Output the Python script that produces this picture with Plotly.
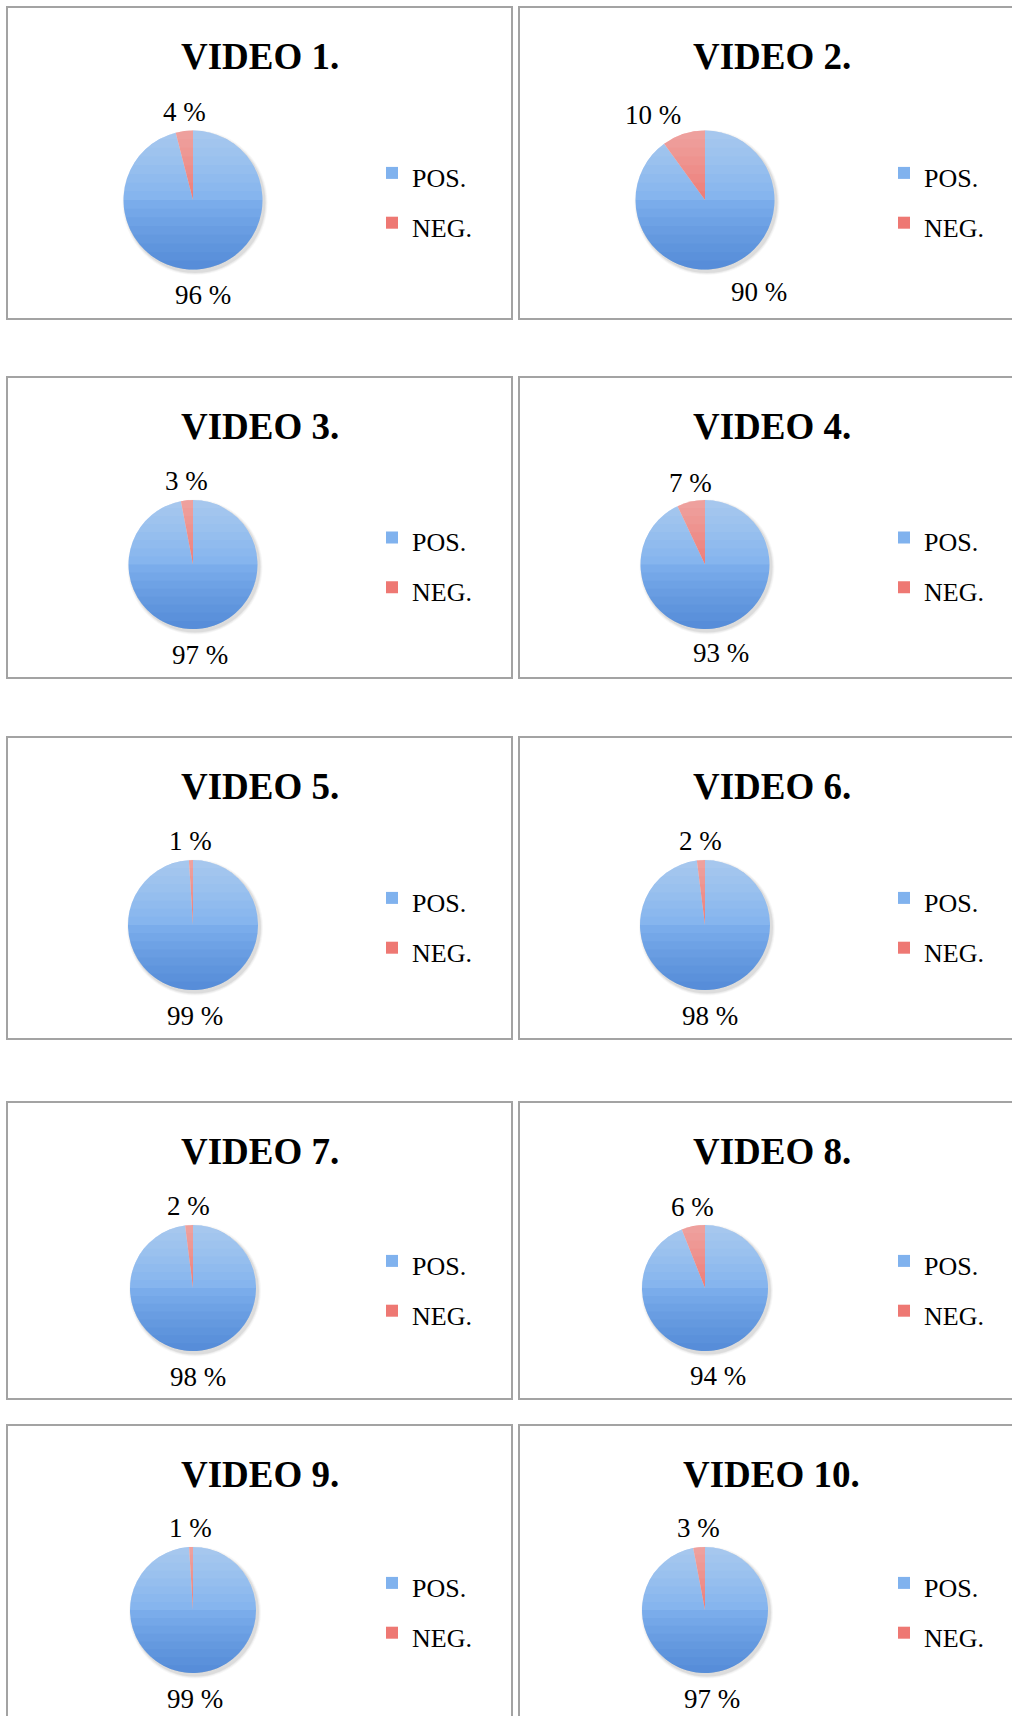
import math
import plotly.graph_objects as go

# ---------------- data ----------------
titles = ["VIDEO 1.", "VIDEO 2.", "VIDEO 3.", "VIDEO 4.", "VIDEO 5.",
          "VIDEO 6.", "VIDEO 7.", "VIDEO 8.", "VIDEO 9.", "VIDEO 10."]
categories = ["POS.", "NEG."]
pos_values = [96, 90, 97, 93, 99, 98, 98, 94, 99, 97]
neg_values = [4, 10, 3, 7, 1, 2, 2, 6, 1, 3]

# ---------------- layout constants (pixels) ----------------
W, H = 1012, 1716
COL_LEFT = [7, 519]
COL_RIGHT = [512, 1024]
ROW_TOP = [7, 377, 737, 1102, 1425]
ROW_BOTTOM = [319, 678, 1039, 1399, 1740]
PIE_CX = [193, 705]
PIE_CY = [200, 564.5, 925, 1288, 1610]
PIE_R = [69.5, 64.5, 65, 63, 63]
TITLE_CX = [259.5, 771.5]
TITLE_BASE = [70, 440, 800, 1165, 1488]
LEGEND_X = [372, 884]

COLORS = ["#80b2ee", "#ee7873"]
SERIF = "Liberation Serif, Times New Roman, serif"


def px(x):
    return x / W


def py(y):
    return 1 - y / H


def segment_path(cx, cy, r, yl, above, n=48):
    """Circular segment of the pie disc above/below the screen line y = yl."""
    c = max(-1.0, min(1.0, (cy - yl) / r))
    phi0 = math.acos(c)
    if above:
        a0, a1 = -phi0, phi0
    else:
        a0, a1 = phi0, 2 * math.pi - phi0
    pts = []
    for k in range(n + 1):
        a = a0 + (a1 - a0) * k / n
        x = cx + r * math.sin(a)
        y = cy - r * math.cos(a)
        pts.append(f"{px(x):.6f},{py(y):.6f}")
    return "M" + "L".join(pts) + "Z"


fig = go.Figure()
shapes = []
annotations = []
legends = {}

for i in range(len(titles)):
    row, col = divmod(i, 2)
    cx, cy, r = PIE_CX[col], PIE_CY[row], PIE_R[row]
    vals = [pos_values[i], neg_values[i]]
    leg_id = "legend" if i == 0 else f"legend{i + 1}"

    # panel frame
    shapes.append(dict(type="rect", xref="paper", yref="paper",
                       x0=px(COL_LEFT[col]), x1=px(COL_RIGHT[col]),
                       y0=py(ROW_BOTTOM[row]), y1=py(ROW_TOP[row]),
                       line=dict(color="#a3a3a3", width=2), fillcolor="white",
                       layer="below"))
    # soft shadow under the pie
    for k, op in enumerate([0.03, 0.045, 0.065]):
        d = 3 - k
        shapes.append(dict(type="circle", xref="paper", yref="paper",
                           x0=px(cx - r - d + 2), x1=px(cx + r + d + 2),
                           y0=py(cy + r + d + 2.5), y1=py(cy - r - d + 2.5),
                           line=dict(width=0), fillcolor=f"rgba(0,0,0,{op})",
                           layer="below"))

    fig.add_trace(go.Pie(
        labels=[f'<span style="font-size:26px">{c}</span>' for c in categories],
        values=vals,
        sort=False,
        direction="clockwise",
        rotation=0,
        textinfo="none",
        marker=dict(colors=COLORS, line=dict(width=0)),
        domain=dict(x=[px(cx - r), px(cx + r)], y=[py(cy + r), py(cy - r)]),
        legend=leg_id,
        legendgroup=f"video{i + 1}",
        hovertemplate="%{label}: %{value} %<extra></extra>",
    ))

    # vertical light-to-dark shading of the disc
    K = 8
    for k in range(1, K + 1):
        yl = cy - r + r * k / K
        shapes.append(dict(type="path", xref="paper", yref="paper",
                           path=segment_path(cx, cy, r, yl, True),
                           line=dict(width=0), fillcolor="rgba(255,255,255,0.046)",
                           layer="above"))
    for k in range(K):
        yl = cy + r * k / K
        shapes.append(dict(type="path", xref="paper", yref="paper",
                           path=segment_path(cx, cy, r, yl, False),
                           line=dict(width=0), fillcolor="rgba(25,95,185,0.062)",
                           layer="above"))

    legends[leg_id] = dict(
        x=px(LEGEND_X[col]), xanchor="left",
        y=py(cy - 57), yanchor="top",
        bgcolor="rgba(0,0,0,0)", borderwidth=0,
        font=dict(family=SERIF, size=36, color="black"),
        itemclick=False, itemdoubleclick=False,
    )

    # title
    annotations.append(dict(text=f"<b>{titles[i]}</b>", xref="paper", yref="paper",
                            x=px(TITLE_CX[col]), y=py(TITLE_BASE[row] + 9),
                            xanchor="center", yanchor="bottom", showarrow=False,
                            font=dict(family=SERIF, size=37, color="black")))

    # data labels placed outside each slice at its mid-angle
    total = sum(vals)
    cum = 0
    for v in vals:
        mid = (cum + v / 2) / total
        cum += v
        th = 2 * math.pi * mid
        ux, uy = math.sin(th), -math.cos(th)
        gap = 2 if uy < 0 else 9
        ax = cx + ux * (r + gap)
        ay = cy + uy * (r + gap)
        if abs(ux) < 0.25:
            xa = "center"
        else:
            xa = "left" if ux > 0 else "right"
        ya = "bottom" if uy < 0 else "top"
        annotations.append(dict(text=f"{v} %", xref="paper", yref="paper",
                                x=px(ax), y=py(ay), xanchor=xa, yanchor=ya,
                                showarrow=False,
                                font=dict(family=SERIF, size=27, color="black")))

fig.update_layout(
    width=W, height=H,
    margin=dict(l=0, r=0, t=0, b=0),
    paper_bgcolor="white", plot_bgcolor="white",
    shapes=shapes, annotations=annotations,
    **legends,
)

fig.write_html("out.html")
